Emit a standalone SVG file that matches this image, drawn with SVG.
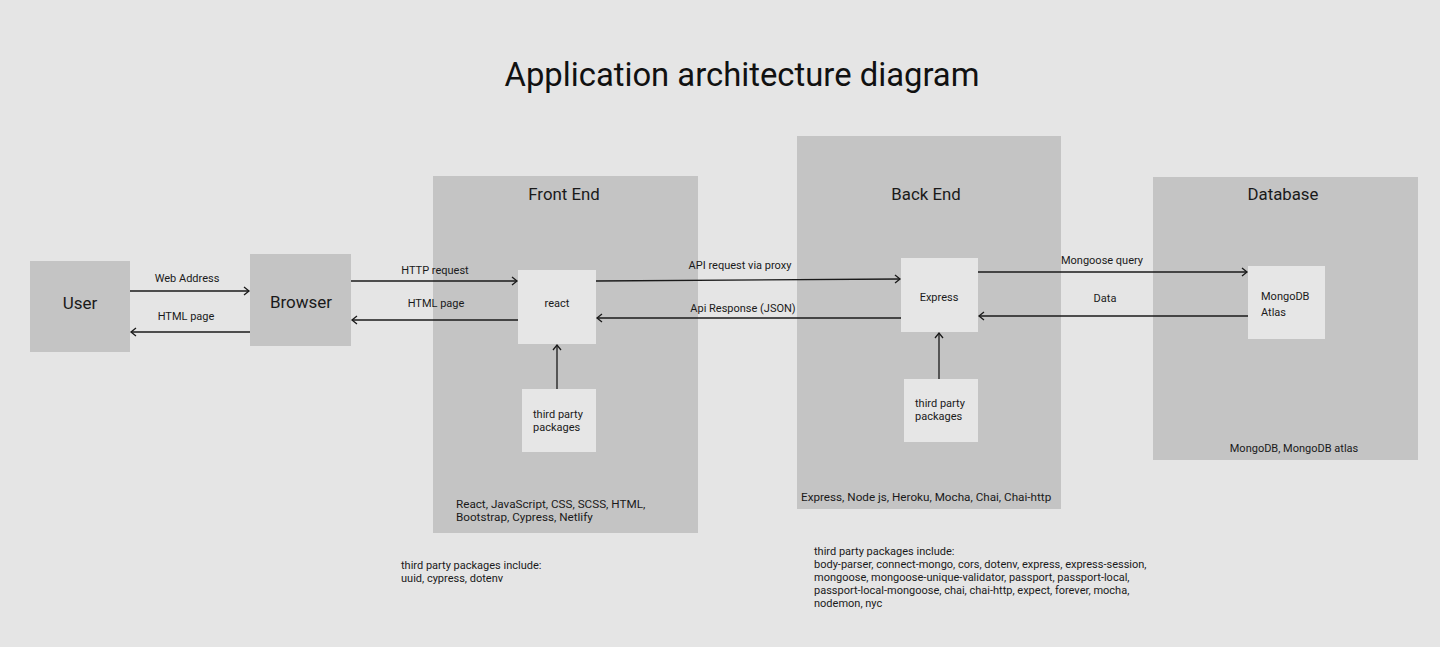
<svg xmlns="http://www.w3.org/2000/svg" width="1440" height="647" viewBox="0 0 1440 647">
<style>
text{font-family:Roboto,"Liberation Sans",sans-serif;fill:#1a1a1a}
.cont{fill:#c4c4c4}
.inner{fill:#e6e6e6}
.lbl{font-size:11px}
.tech{font-size:11.7px}
.ctitle{font-size:16.8px}
.edge{stroke:#1a1a1a;stroke-width:1.3;fill:none}
</style>
<defs>
<marker id="arr" markerWidth="10" markerHeight="10" refX="8" refY="5" orient="auto" markerUnits="userSpaceOnUse">
<polyline points="3,1 8,5 3,9" fill="none" stroke="#1a1a1a" stroke-width="1.3"/>
</marker>
</defs>
<rect width="1440" height="647" fill="#e5e5e5"/>
<text x="742" y="86" font-size="32.8" text-anchor="middle" style="fill:#111">Application architecture diagram</text>

<g id="frontend">
<rect class="cont" x="433" y="176" width="265" height="357"/>
<text class="ctitle" x="564" y="200" text-anchor="middle">Front End</text>
<text class="tech" x="456" y="508">React, JavaScript, CSS, SCSS, HTML,</text>
<text class="tech" x="456" y="521">Bootstrap, Cypress, Netlify</text>
</g>
<g id="backend">
<rect class="cont" x="797" y="136" width="264" height="373"/>
<text class="ctitle" x="926" y="200" text-anchor="middle">Back End</text>
<text class="tech" x="801" y="501">Express, Node js, Heroku, Mocha, Chai, Chai-http</text>
</g>
<g id="database">
<rect class="cont" x="1153" y="177" width="265" height="283"/>
<text class="ctitle" x="1283" y="200" text-anchor="middle">Database</text>
<text class="lbl" x="1294" y="452" text-anchor="middle">MongoDB, MongoDB atlas</text>
</g>

<g id="user">
<rect class="cont" x="30" y="261" width="100" height="91"/>
<text x="80" y="309" font-size="17" text-anchor="middle">User</text>
</g>
<g id="browser">
<rect class="cont" x="250" y="254" width="101" height="92"/>
<text x="301" y="308" font-size="17" text-anchor="middle">Browser</text>
</g>
<g id="react">
<rect class="inner" x="518" y="270" width="78" height="74"/>
<text class="lbl" x="557" y="307" text-anchor="middle">react</text>
</g>
<g id="fe-third-party">
<rect class="inner" x="522" y="389" width="74" height="63"/>
<text class="lbl" x="533" y="418">third party</text>
<text class="lbl" x="533" y="431">packages</text>
</g>
<g id="express">
<rect class="inner" x="901" y="258" width="77" height="74"/>
<text class="lbl" x="939" y="301" text-anchor="middle">Express</text>
</g>
<g id="be-third-party">
<rect class="inner" x="904" y="379" width="74" height="63"/>
<text class="lbl" x="915" y="407">third party</text>
<text class="lbl" x="915" y="420">packages</text>
</g>
<g id="mongodb">
<rect class="inner" x="1248" y="266" width="77" height="73"/>
<text class="lbl" x="1261" y="300">MongoDB</text>
<text class="lbl" x="1261" y="316">Atlas</text>
</g>

<g id="connectors">
<line class="edge" x1="130" y1="291" x2="249" y2="291" marker-end="url(#arr)"/>
<text class="lbl" x="187" y="282" text-anchor="middle">Web Address</text>
<line class="edge" x1="250" y1="332" x2="131" y2="332" marker-end="url(#arr)"/>
<text class="lbl" x="186" y="320" text-anchor="middle">HTML page</text>
<line class="edge" x1="351" y1="281" x2="517" y2="281" marker-end="url(#arr)"/>
<text class="lbl" x="435" y="274" text-anchor="middle">HTTP request</text>
<line class="edge" x1="518" y1="320" x2="352" y2="320" marker-end="url(#arr)"/>
<text class="lbl" x="436" y="307" text-anchor="middle">HTML page</text>
<line class="edge" x1="596" y1="281" x2="900" y2="279" marker-end="url(#arr)"/>
<text class="lbl" x="740" y="269" text-anchor="middle">API request via proxy</text>
<line class="edge" x1="901" y1="318" x2="597" y2="318" marker-end="url(#arr)"/>
<text class="lbl" x="743" y="312" text-anchor="middle">Api Response (JSON)</text>
<line class="edge" x1="978" y1="272" x2="1247" y2="272" marker-end="url(#arr)"/>
<text class="lbl" x="1102" y="264" text-anchor="middle">Mongoose query</text>
<line class="edge" x1="1248" y1="316" x2="979" y2="316" marker-end="url(#arr)"/>
<text class="lbl" x="1105" y="302" text-anchor="middle">Data</text>
<line class="edge" x1="557" y1="389" x2="557" y2="345" marker-end="url(#arr)"/>
<line class="edge" x1="939" y1="379" x2="939" y2="333" marker-end="url(#arr)"/>
</g>

<g id="notes">
<text class="lbl" x="401" y="569">third party packages include:</text>
<text class="lbl" x="401" y="582">uuid, cypress, dotenv</text>
<text class="lbl" x="814" y="555">third party packages include:</text>
<text class="lbl" x="814" y="568">body-parser, connect-mongo, cors, dotenv, express, express-session,</text>
<text class="lbl" x="814" y="581">mongoose, mongoose-unique-validator, passport, passport-local,</text>
<text class="lbl" x="814" y="594">passport-local-mongoose, chai, chai-http, expect, forever, mocha,</text>
<text class="lbl" x="814" y="607">nodemon, nyc</text>
</g>
</svg>
